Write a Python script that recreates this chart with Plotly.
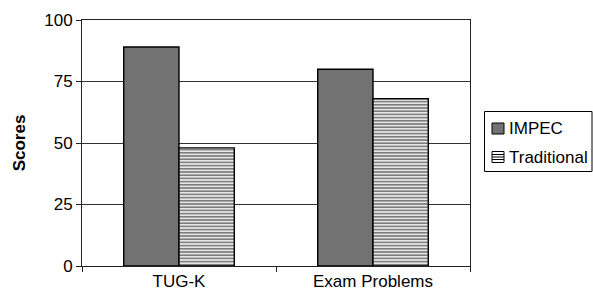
import plotly.graph_objects as go

categories = ["TUG-K", "Exam Problems"]
impec = [89, 80]
traditional = [48, 68]
y_ticks = [0, 25, 50, 75, 100]
series_names = ["IMPEC", "Traditional"]

IMPEC_COLOR = "#727272"

# plot box in figure px
L, T, PW, PH = 82, 20, 388, 246
W, H = 593, 301


def px(sx):
    return (sx - L) / PW


def py(sy):
    return (T + PH - sy) / PH


fig = go.Figure()
fig.add_trace(go.Bar(
    x=categories, y=impec, name=series_names[0], showlegend=False,
    marker=dict(color=IMPEC_COLOR, line=dict(color="black", width=1.4)),
))
fig.add_trace(go.Bar(
    x=categories, y=traditional, name=series_names[1], showlegend=False,
    marker=dict(color="white", line=dict(color="black", width=1.4),
                pattern=dict(shape="-", fgcolor="black", bgcolor="white",
                             size=3.2, solidity=0.6)),
))

font = "Liberation Sans, Arial, sans-serif"

shapes = []
# legend box
shapes.append(dict(type="rect", xref="paper", yref="paper",
                   x0=px(484.5), x1=px(592), y0=py(111.5), y1=py(171.5),
                   line=dict(color="black", width=1), fillcolor="white"))
# IMPEC symbol
shapes.append(dict(type="rect", xref="paper", yref="paper",
                   x0=px(492), x1=px(504), y0=py(123), y1=py(134),
                   line=dict(color="black", width=1), fillcolor=IMPEC_COLOR))
# Traditional symbol
shapes.append(dict(type="rect", xref="paper", yref="paper",
                   x0=px(492), x1=px(504), y0=py(151.5), y1=py(162.5),
                   line=dict(color="black", width=1), fillcolor="white"))
for sy in [154.5, 157, 159.5]:
    shapes.append(dict(type="line", xref="paper", yref="paper",
                       x0=px(492), x1=px(504), y0=py(sy), y1=py(sy),
                       line=dict(color="black", width=1)))

annotations = [
    dict(text=series_names[0], xref="paper", yref="paper", x=px(507), y=py(128.5),
         xanchor="left", yanchor="middle", showarrow=False,
         font=dict(size=17, family=font, color="black")),
    dict(text=series_names[1], xref="paper", yref="paper", x=px(507), y=py(157.5),
         xanchor="left", yanchor="middle", showarrow=False,
         font=dict(size=17, family=font, color="black")),
]

fig.update_layout(
    width=W, height=H,
    margin=dict(l=L, r=W - L - PW, t=T, b=H - T - PH, autoexpand=False),
    paper_bgcolor="white", plot_bgcolor="white",
    barmode="group", bargap=0.43, bargroupgap=0,
    font=dict(family=font, size=17, color="black"),
    showlegend=False,
    shapes=shapes,
    annotations=annotations,
    xaxis=dict(type="category", showline=True, linecolor="#222", linewidth=1,
               mirror=True, ticks="outside", tickson="boundaries", ticklen=5,
               tickcolor="#222", showgrid=False, tickfont=dict(size=17),
               automargin=False),
    yaxis=dict(range=[0, 100], tickvals=y_ticks, showline=True, linecolor="#222",
               linewidth=1, mirror=True, ticks="outside", ticklen=5, tickcolor="#222",
               showgrid=True, gridcolor="#333", gridwidth=1, zeroline=False,
               tickfont=dict(size=17), automargin=False,
               title=dict(text="<b>Scores</b>", font=dict(size=17), standoff=14)),
)

fig.write_html("out.html",
               config={"displayModeBar": False},
               post_script="document.body.style.margin='0';"
                           "document.body.style.overflow='hidden';")
